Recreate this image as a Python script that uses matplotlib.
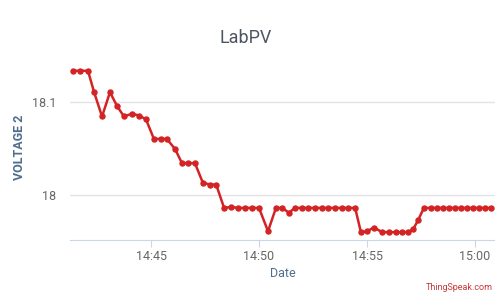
import datetime as dt
import matplotlib
matplotlib.use("Agg")
import matplotlib.pyplot as plt
import matplotlib.dates as mdates

plt.rcParams['font.family'] = ['Roboto', 'DejaVu Sans']

# ThingSpeak field 2 readings
times = ["14:41:23", "14:41:43", "14:42:05", "14:42:22", "14:42:44", "14:43:06",
         "14:43:26", "14:43:45", "14:44:07", "14:44:27", "14:44:46", "14:45:08",
         "14:45:28", "14:45:44", "14:46:07", "14:46:26", "14:46:43", "14:47:02",
         "14:47:24", "14:47:44", "14:48:01", "14:48:23", "14:48:42", "14:49:02",
         "14:49:21", "14:49:41", "14:50:00", "14:50:25", "14:50:47", "14:51:04",
         "14:51:23", "14:51:40", "14:51:59", "14:52:16", "14:52:36", "14:52:55",
         "14:53:12", "14:53:31", "14:53:51", "14:54:07", "14:54:27", "14:54:43",
         "14:55:00", "14:55:19", "14:55:42", "14:56:01", "14:56:21", "14:56:37",
         "14:56:54", "14:57:08", "14:57:22", "14:57:38", "14:57:58", "14:58:14",
         "14:58:31", "14:58:48", "14:59:04", "14:59:21", "14:59:38", "14:59:54",
         "15:00:11", "15:00:28", "15:00:44"]
voltage2 = [18.133, 18.133, 18.133, 18.110, 18.084, 18.110,
            18.095, 18.084, 18.087, 18.085, 18.081, 18.060,
            18.060, 18.060, 18.049, 18.034, 18.034, 18.034,
            18.013, 18.011, 18.011, 17.986, 17.987, 17.986,
            17.986, 17.986, 17.986, 17.961, 17.986, 17.986,
            17.981, 17.986, 17.986, 17.986, 17.986, 17.986,
            17.986, 17.986, 17.986, 17.986, 17.986, 17.960,
            17.961, 17.965, 17.960, 17.960, 17.960, 17.960,
            17.960, 17.963, 17.973, 17.986, 17.986, 17.986,
            17.986, 17.986, 17.986, 17.986, 17.986, 17.986,
            17.986, 17.986, 17.986]

day = dt.date(2020, 1, 1)
t = [dt.datetime.combine(day, dt.datetime.strptime(s, "%H:%M:%S").time()) for s in times]

fig = plt.figure(figsize=(4.95, 2.99), dpi=100)
ax = fig.add_axes([0.1414, 0.1973, 0.859, 0.619])

ax.plot(t, voltage2, color='#d42325', lw=1.8, marker='o', ms=3.6, zorder=3)

ax.set_xlim(dt.datetime.combine(day, dt.time(14, 41, 15)),
            dt.datetime.combine(day, dt.time(15, 0, 56)))
ax.set_ylim(17.9516, 18.15)
ax.set_yticks([18.0, 18.1])
ax.set_yticklabels(["18", "18.1"])
ax.xaxis.set_major_locator(mdates.MinuteLocator(byminute=range(0, 60, 5)))
ax.xaxis.set_major_formatter(mdates.DateFormatter('%H:%M'))

ax.grid(axis='y', color='#e3e3e3', lw=1)
for s in ['top', 'right', 'left']:
    ax.spines[s].set_visible(False)
ax.spines['bottom'].set_color('#ccd6eb')
ax.tick_params(axis='y', length=0, labelsize=9, colors='#666666', pad=10)
ax.tick_params(axis='x', length=5, labelsize=9, colors='#666666', pad=2)
ax.tick_params(axis='x', color='#ccd6eb')

fig.text(0.497, 0.873, "LabPV", fontsize=13, color='#4d5660', ha='center', va='center')
ax.set_ylabel("VOLTAGE 2", fontsize=9, fontweight='bold', color='#4e6e8e', labelpad=4)
ax.set_xlabel("Date", fontsize=9, color='#4e6e8e', labelpad=3)
fig.text(0.995, 0.022, "ThingSpeak.com", fontsize=6.5, color='#c8383a', ha='right', va='bottom')

fig.savefig("out.png", dpi=100)
